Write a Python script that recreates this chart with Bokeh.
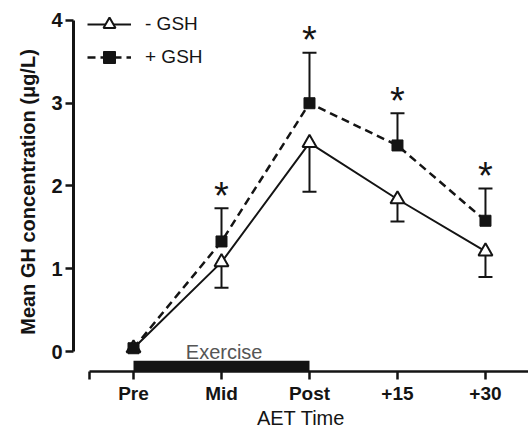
from bokeh.plotting import figure
from bokeh.models import (Whisker, TeeHead, FixedTicker, Legend, LegendItem,
                          ColumnDataSource, Range1d)
from bokeh.core.properties import value
from bokeh.embed import file_html
from bokeh.resources import INLINE

# ---- data ----
times = ["Pre", "Mid", "Post", "+15", "+30"]
minus_gsh = [0.04, 1.08, 2.52, 1.84, 1.21]
minus_gsh_lower = [0.04, 0.77, 1.93, 1.57, 0.90]
plus_gsh = [0.04, 1.33, 3.00, 2.49, 1.58]
plus_gsh_upper = [0.04, 1.73, 3.61, 2.88, 1.97]
significant = [False, True, True, True, True]
y_ticks = [0, 1, 2, 3, 4]
exercise_span = ["Pre", "Post"]
series_labels = ["- GSH", "+ GSH"]

FONT = "Liberation Sans"
INK = "#141414"

xs = list(range(len(times)))

p = figure(width=528, height=431, output_backend="svg", toolbar_location=None,
           x_range=Range1d(-0.682, 4.489), y_range=Range1d(-0.241, 4.096),
           min_border_left=73, min_border_right=0, min_border_top=12,
           min_border_bottom=59)
p.outline_line_color = None
p.xgrid.visible = False
p.ygrid.visible = False
p.background_fill_color = "white"
p.border_fill_color = "white"

# exercise bar
ex0, ex1 = times.index(exercise_span[0]), times.index(exercise_span[1])
p.quad(left=[ex0], right=[ex1], bottom=[-0.235], top=[-0.11],
       fill_color=INK, line_color=None)
p.text(x=[(ex0 + ex1) / 2 + 0.03], y=[-0.14], text=["Exercise"],
       text_font=value(FONT), text_font_size="20px", text_color="#555555",
       text_align="center", text_baseline="bottom")

# error bars
lo_idx = [i for i in xs if minus_gsh_lower[i] < minus_gsh[i]]
src_lo = ColumnDataSource(dict(x=[xs[i] for i in lo_idx],
                               upper=[minus_gsh[i] for i in lo_idx],
                               lower=[minus_gsh_lower[i] for i in lo_idx]))
p.add_layout(Whisker(source=src_lo, base="x", upper="upper", lower="lower",
                     upper_head=None,
                     lower_head=TeeHead(size=14, line_width=2, line_color=INK),
                     line_width=2, line_color=INK, level="underlay"))
hi_idx = [i for i in xs if plus_gsh_upper[i] > plus_gsh[i]]
src_hi = ColumnDataSource(dict(x=[xs[i] for i in hi_idx],
                               upper=[plus_gsh_upper[i] for i in hi_idx],
                               lower=[plus_gsh[i] for i in hi_idx]))
p.add_layout(Whisker(source=src_hi, base="x", upper="upper", lower="lower",
                     lower_head=None,
                     upper_head=TeeHead(size=14, line_width=2, line_color=INK),
                     line_width=2, line_color=INK, level="underlay"))

# series
l1 = p.line(xs, minus_gsh, line_color=INK, line_width=2)
l2 = p.line(xs, plus_gsh, line_color=INK, line_width=2.5, line_dash="8 5")
s1 = p.scatter(xs, minus_gsh, marker="triangle", size=14, fill_color="white",
               line_color=INK, line_width=2)
s2 = p.scatter(xs, plus_gsh, marker="square", size=11, fill_color=INK,
               line_color=INK, line_width=1)

# significance asterisks
sx = [xs[i] for i in xs if significant[i]]
sy = [plus_gsh_upper[i] + 0.15 for i in xs if significant[i]]
p.text(x=sx, y=sy, text=["*"] * len(sx), text_font=value(FONT),
       text_font_size="38px", text_color=INK, text_align="center",
       text_baseline="middle")

# legend
legend = Legend(items=[LegendItem(label=series_labels[0], renderers=[l1, s1]),
                       LegendItem(label=series_labels[1], renderers=[l2, s2])],
                location=(14, 299), glyph_width=44, glyph_height=30, spacing=3,
                padding=0, margin=0, label_standoff=14,
                label_text_font=FONT, label_text_font_size="19px",
                label_text_color=INK, border_line_color=None,
                background_fill_alpha=0)
p.add_layout(legend)

# axes
xa = p.xaxis[0]
xa.ticker = FixedTicker(ticks=[-0.5] + xs + [4.5])
overrides = {x: t for x, t in zip(xs, times)}
overrides[-0.5] = ""
overrides[4.5] = ""
xa.major_label_overrides = overrides
xa.bounds = (-0.5, 4.5)
xa.minor_tick_line_color = None
xa.major_tick_in = 0
xa.major_tick_out = 8
xa.major_tick_line_width = 2.5
xa.major_tick_line_color = INK
xa.axis_line_width = 2.5
xa.axis_line_color = INK
xa.major_label_text_font = FONT
xa.major_label_text_font_style = "bold"
xa.major_label_text_font_size = "19px"
xa.major_label_text_color = INK
xa.major_label_standoff = 3
xa.axis_label = "AET Time"
xa.axis_label_text_font = FONT
xa.axis_label_text_font_style = "normal"
xa.axis_label_text_font_size = "20px"
xa.axis_label_text_color = INK
xa.axis_label_standoff = 0

ya = p.yaxis[0]
ya.ticker = FixedTicker(ticks=y_ticks)
ya.bounds = (0, 4)
ya.minor_tick_line_color = None
ya.major_tick_in = 0
ya.major_tick_out = 8
ya.major_tick_line_width = 2.5
ya.major_tick_line_color = INK
ya.axis_line_width = 3
ya.axis_line_color = INK
ya.major_label_text_font = FONT
ya.major_label_text_font_style = "bold"
ya.major_label_text_font_size = "20px"
ya.major_label_text_color = INK
ya.major_label_standoff = 3
ya.axis_label = "Mean GH concentration (\u03bcg/L)"
ya.axis_label_text_font = FONT
ya.axis_label_text_font_style = "bold"
ya.axis_label_text_font_size = "20px"
ya.axis_label_text_color = INK
ya.axis_label_standoff = 9

open("out.html", "w").write(file_html(p, INLINE))
